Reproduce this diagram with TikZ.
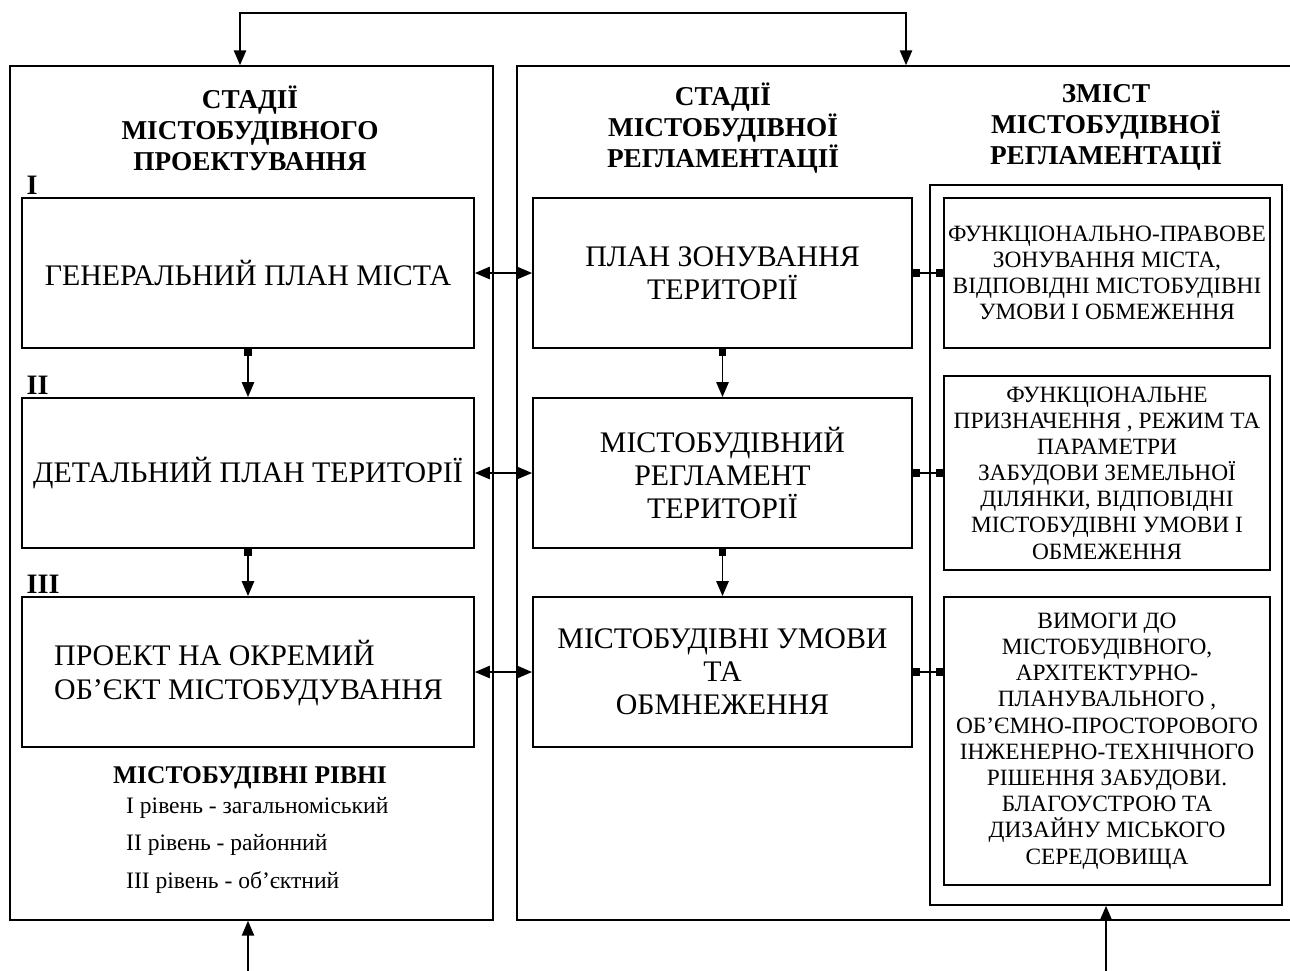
\documentclass[tikz,border=0pt]{standalone}
\usepackage{fontspec}
\setmainfont{Liberation Serif}
\usetikzlibrary{arrows.meta}

\tikzset{
  frame/.style={draw, line width=1pt},
  stagebox/.style={draw, line width=1.1pt, inner sep=0pt, align=center,
    font=\fontsize{17}{18.8}\selectfont},
  contentbox/.style={draw, line width=1.1pt, inner sep=0pt, align=center,
    minimum width=6.52cm, font=\fontsize{13.3}{14.9}\selectfont},
  heading/.style={align=center, font=\bfseries\fontsize{15.5}{17.6}\selectfont},
  numeral/.style={anchor=south west, inner sep=0pt, font=\bfseries\fontsize{16}{16}\selectfont},
  level/.style={anchor=west, font=\fontsize{13.4}{15}\selectfont},
  flow/.style={line width=1pt, -{Triangle[length=8.5pt,width=7pt]}},
  both/.style={line width=1pt, {Triangle[length=8.5pt,width=7pt]}-{Triangle[length=8.5pt,width=7pt]}},
  link/.style={line width=1pt, {Square[length=4pt,width=4pt]}-{Square[length=4pt,width=4pt]}},
  down/.style={line width=1pt, {Square[length=4pt,width=4pt]}-{Triangle[length=8.5pt,width=7pt]}},
}

\begin{document}
\begin{tikzpicture}[x=0.02cm, y=-0.02cm]
    \useasboundingbox (0,0) rectangle (1290,970);

    % panels
    \node[frame, minimum width=9.66cm, minimum height=17.08cm] (lp) at (251.5,493) {};
    \draw[frame] (1292,66) -- (517,66) -- (517,920) -- (1292,920);
    \node[frame, minimum width=7.04cm, minimum height=14.4cm] (cp) at (1106,545) {};

    % headings
    \node[heading] (h1) at (250,128) {СТАДІЇ\\МІСТОБУДІВНОГО\\ПРОЕКТУВАННЯ};
    \node[heading] (h2) at (723,128) {СТАДІЇ\\МІСТОБУДІВНОЇ\\РЕГЛАМЕНТАЦІЇ};
    \node[heading] (h3) at (1106,127) {ЗМІСТ\\МІСТОБУДІВНОЇ\\РЕГЛАМЕНТАЦІЇ};

    % design stages
    \node[stagebox, minimum width=9.04cm, minimum height=3cm] (gp) at (248,273) {ГЕНЕРАЛЬНИЙ ПЛАН МІСТА};
    \node[stagebox, minimum width=9.04cm, minimum height=3cm] (dp) at (248,473) {ДЕТАЛЬНИЙ ПЛАН ТЕРИТОРІЇ};
    \node[stagebox, minimum width=9.04cm, minimum height=3cm] (po) at (248,672) {};
    \node[align=left, anchor=west, font=\fontsize{17}{18.8}\selectfont] (pot) at (48,673)
        {ПРОЕКТ НА ОКРЕМИЙ\\ОБ’ЄКТ МІСТОБУДУВАННЯ};
    \node[numeral] (r1) at ([xshift=3pt,yshift=1pt]gp.north west) {I};
    \node[numeral] (r2) at ([xshift=3pt,yshift=1pt]dp.north west) {II};
    \node[numeral] (r3) at ([xshift=3pt,yshift=1pt]po.north west) {III};

    % regulation stages
    \node[stagebox, minimum width=7.58cm, minimum height=3cm] (pz) at (722.5,273) {ПЛАН ЗОНУВАННЯ\\ТЕРИТОРІЇ};
    \node[stagebox, minimum width=7.58cm, minimum height=3cm] (mr) at (722.5,473) {МІСТОБУДІВНИЙ\\РЕГЛАМЕНТ\\ТЕРИТОРІЇ};
    \node[stagebox, minimum width=7.58cm, minimum height=3cm] (mu) at (722.5,672) {МІСТОБУДІВНІ УМОВИ\\ТА\\ОБМНЕЖЕННЯ};

    % regulation content
    \node[contentbox, minimum height=3cm] (fz) at (1107,273)
        {ФУНКЦІОНАЛЬНО-ПРАВОВЕ\\ЗОНУВАННЯ МІСТА,\\ВІДПОВІДНІ МІСТОБУДІВНІ\\УМОВИ І ОБМЕЖЕННЯ};
    \node[contentbox, minimum height=3.88cm] (fp) at (1107,473)
        {ФУНКЦІОНАЛЬНЕ\\ПРИЗНАЧЕННЯ , РЕЖИМ ТА\\ПАРАМЕТРИ\\ЗАБУДОВИ ЗЕМЕЛЬНОЇ\\ДІЛЯНКИ, ВІДПОВІДНІ\\МІСТОБУДІВНІ УМОВИ І\\ОБМЕЖЕННЯ};
    \node[contentbox, minimum height=5.76cm] (vm) at (1107,741)
        {ВИМОГИ ДО\\МІСТОБУДІВНОГО,\\АРХІТЕКТУРНО-\\ПЛАНУВАЛЬНОГО ,\\ОБ’ЄМНО-ПРОСТОРОВОГО\\ІНЖЕНЕРНО-ТЕХНІЧНОГО\\РІШЕННЯ ЗАБУДОВИ.\\БЛАГОУСТРОЮ ТА\\ДИЗАЙНУ МІСЬКОГО\\СЕРЕДОВИЩА};

    % levels
    \node[font=\bfseries\fontsize{14.5}{16}\selectfont] (lv) at (250,778) {МІСТОБУДІВНІ РІВНІ};
    \node[level] (l1) at (120,808) {I рівень - загальноміський};
    \node[level] (l2) at (120,845) {II рівень - районний};
    \node[level] (l3) at (120,883) {III рівень - об’єктний};

    % connectors
    \draw[both] (gp) -- (pz);
    \draw[both] (dp) -- (mr);
    \draw[both] (po) -- (mu);
    \draw[link] (pz) -- (fz);
    \draw[link] (mr) -- (fp);
    \draw[link] (mu.east) -- (mu.east -| vm.west);
    \draw[down] (gp) -- (dp);
    \draw[down] (dp) -- (po);
    \draw[down] (pz) -- (mr);
    \draw[down] (mr) -- (mu);

    % outer links
    \coordinate (tl) at (240,13);
    \coordinate (tr) at (906,13);
    \draw[both] (tl |- lp.north) -- (tl) -- (tr) -- (tr |- lp.north);
    \coordinate (bl) at (248,972);
    \coordinate (br) at (1106,972);
    \draw[flow] (bl) -- (bl |- lp.south);
    \draw[flow] (br) -- (cp.south);
\end{tikzpicture}
\end{document}
